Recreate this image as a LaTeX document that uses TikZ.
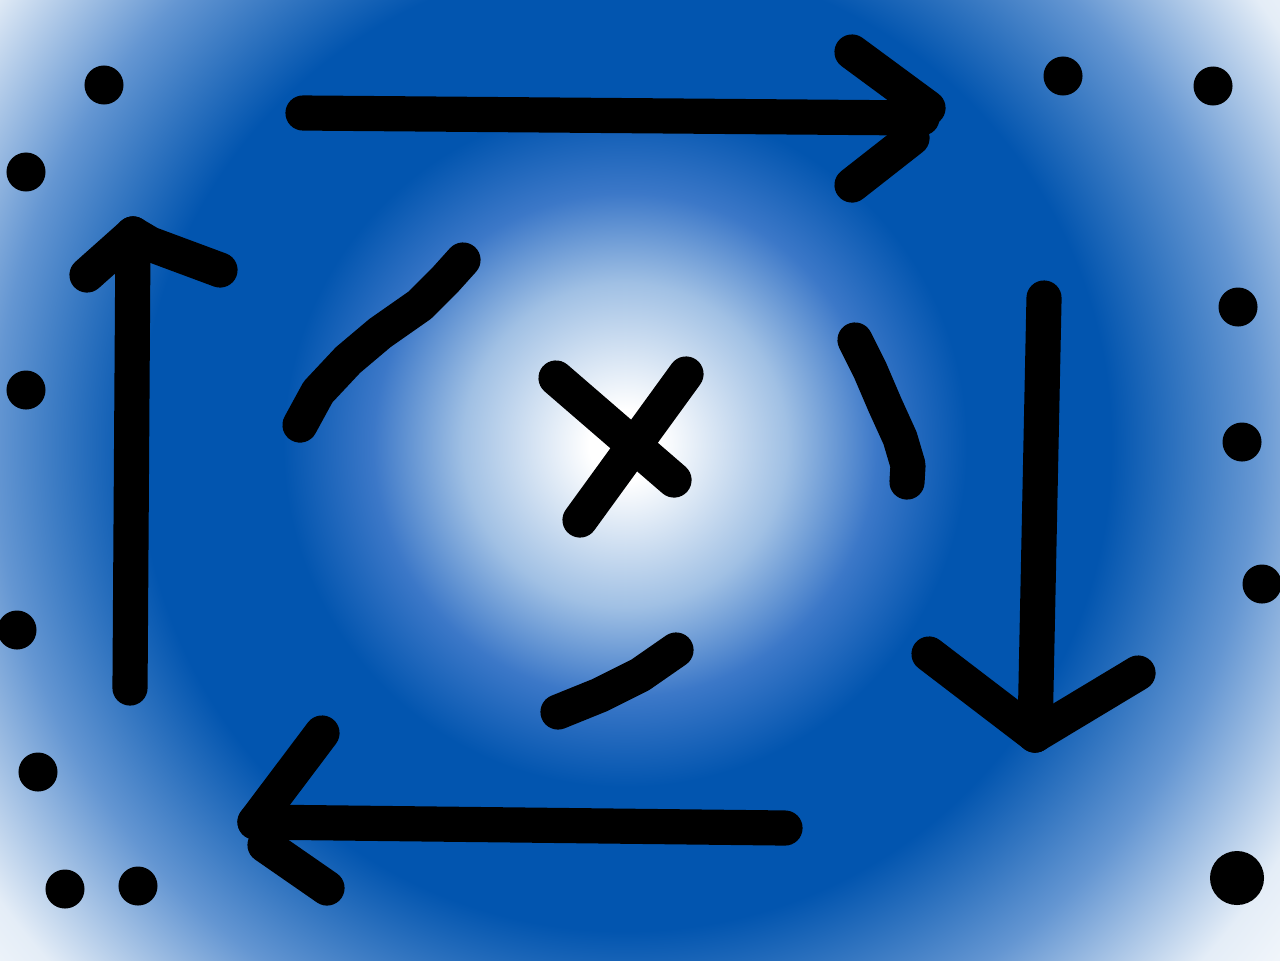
\documentclass[tikz,border=0pt]{standalone}
\definecolor{bgblue}{RGB}{2,85,175}
\definecolor{bgmid}{RGB}{160,192,228}
\definecolor{bgmid2}{RGB}{60,120,200}
\definecolor{bgout}{RGB}{100,150,210}
\definecolor{bgpale}{RGB}{228,237,247}
\pgfdeclareradialshading{bgshade}{\pgfpoint{0bp}{0bp}}{color(0bp)=(white); color(1bp)=(white); color(4.5bp)=(bgmid); color(7bp)=(bgmid2); color(9.5bp)=(bgblue); color(13.5bp)=(bgblue); color(17.5bp)=(bgout); color(21.5bp)=(bgpale); color(25bp)=(white); color(50bp)=(white)}
\tikzset{stroke/.style={line width=10pt, line cap=round, line join=round, black},
  dot/.style={circle, fill=black, inner sep=0pt, minimum size=#1}}
\begin{document}
\begin{tikzpicture}[x=0.01cm,y=-0.01cm]
\useasboundingbox (0,0) rectangle (1280,960);
\begin{scope}
\clip (0,0) rectangle (1280,960);
\shade[shading=bgshade] (625,445) circle (900);
\end{scope}
% top arrow (right)
\coordinate (t1) at (303,113);
\coordinate (t2) at (922,118);
\draw[stroke] (t1) -- (t2);
\draw[stroke] (852,52) -- (928,108);
\draw[stroke] (912,138) -- (852,185);
% left arrow (up)
\coordinate (l1) at (130,688);
\coordinate (l2) at (133,234);
\draw[stroke] (l1) -- (l2);
\draw[stroke] (87,275) -- (l2);
\draw[stroke] (l2) -- (150,244) -- (220,270);
% right arrow (down)
\coordinate (r1) at (1044,298);
\coordinate (r2) at (1035,735);
\draw[stroke] (r1) -- (r2);
\draw[stroke] (929,654) -- (r2);
\draw[stroke] (r2) -- (1138,673);
% bottom arrow (left)
\coordinate (b1) at (785,828);
\coordinate (b2) at (255,822);
\draw[stroke] (b1) -- (b2);
\draw[stroke] (322,733) -- (b2);
\draw[stroke] (265,845) -- (327,888);
% dashes
\draw[stroke] (300,425) -- (318,392) -- (348,360) -- (380,333) -- (420,305) -- (445,280) -- (463,260);
\draw[stroke] (855,340) -- (870,370) -- (885,405) -- (900,438) -- (908,465) -- (907,482);
\draw[stroke] (558,712) -- (600,695) -- (640,675) -- (676,650);
% cross
\draw[stroke] (556,378) -- (674,480);
\draw[stroke] (686,374) -- (580,520);
% dots
\foreach \p/\n in {(104,85)/d1,(26,172)/d2,(26,390)/d3,(17,630)/d4,(38,772)/d5,(65,889)/d6,(138,886)/d7,(1063,76)/d8,(1213,86)/d9,(1238,307)/d10,(1242,442)/d11,(1262,584)/d12}
  \node[dot=0.39cm] (\n) at \p {};
\node[dot=0.54cm] (d13) at (1237,878) {};
\end{tikzpicture}
\end{document}
